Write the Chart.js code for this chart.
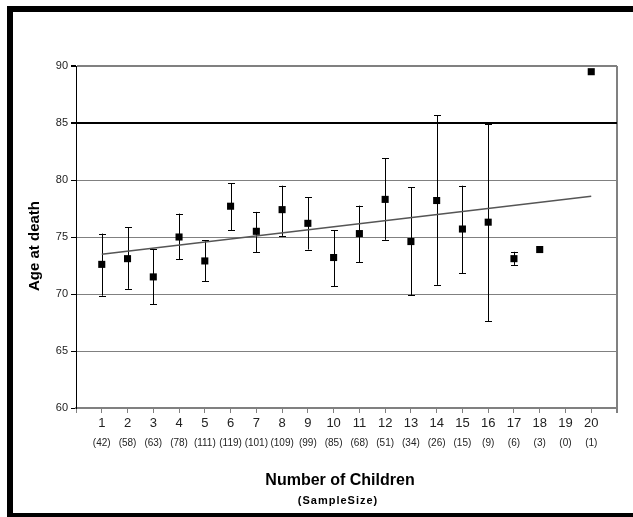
<!DOCTYPE html>
<html>
<head>
<meta charset="utf-8">
<script src="https://cdn.jsdelivr.net/npm/chart.js@4.4.0/dist/chart.umd.min.js"></script>
<style>
    html, body { margin: 0; padding: 0; background: #fff; overflow: hidden; }
    #frame {
        position: absolute; left: 7px; top: 6px; width: 700px; height: 513px;
        box-sizing: border-box; border: 6px solid #000;
    }
    #chart { position: absolute; left: 0; top: 0; }
</style>
</head>
<body>
<div id="frame"></div>
<canvas id="chart" width="633" height="517"></canvas>
<script>
// Data
const children = [1, 2, 3, 4, 5, 6, 7, 8, 9, 10, 11, 12, 13, 14, 15, 16, 17, 18, 19, 20];
const sampleSizes = [42, 58, 63, 78, 111, 119, 101, 109, 99, 85, 68, 51, 34, 26, 15, 9, 6, 3, 0, 1];
const ageAtDeath = [72.6, 73.1, 71.5, 75.0, 72.9, 77.7, 75.5, 77.4, 76.2, 73.2, 75.3, 78.3, 74.6, 78.2, 75.7, 76.3, 73.1, 73.9, null, 89.5];
const errHigh = [75.3, 75.85, 73.95, 77.05, 74.7, 79.7, 77.2, 79.5, 78.5, 75.6, 77.75, 81.9, 79.35, 85.7, 79.5, 84.9, 73.7, null, null, null];
const errLow = [69.85, 70.45, 69.1, 73.05, 71.1, 75.6, 73.65, 75.1, 73.9, 70.7, 72.8, 74.75, 69.9, 70.8, 71.8, 67.6, 72.55, null, null, null];
const trendX = [1, 20];
const trendY = [73.48, 78.57];
const yTicks = [60, 65, 70, 75, 80, 85, 90];

const FONT = "'Liberation Sans', Arial, sans-serif";

const points = [];
children.forEach((c, i) => {
    if (ageAtDeath[i] !== null) points.push({ x: c, y: ageAtDeath[i] });
});

// Error bars with caps, drawn under the markers
const errorBars = {
    id: 'errorBars',
    beforeDatasetsDraw(chart) {
        const ctx = chart.ctx;
        const xs = chart.scales.x;
        const ys = chart.scales.y;
        ctx.save();
        ctx.strokeStyle = '#000';
        ctx.lineWidth = 1;
        children.forEach((c, i) => {
            if (errHigh[i] === null || errLow[i] === null) return;
            const px = Math.round(xs.getPixelForValue(c)) + 0.5;
            const top = ys.getPixelForValue(errHigh[i]);
            const bot = ys.getPixelForValue(errLow[i]);
            ctx.beginPath();
            ctx.moveTo(px, top);
            ctx.lineTo(px, bot);
            ctx.moveTo(px - 3.5, Math.round(top) + 0.5);
            ctx.lineTo(px + 3.5, Math.round(top) + 0.5);
            ctx.moveTo(px - 3.5, Math.round(bot) + 0.5);
            ctx.lineTo(px + 3.5, Math.round(bot) + 0.5);
            ctx.stroke();
        });
        ctx.restore();
    }
};

// Sample sizes under the category numbers, and the axis titles
const extraText = {
    id: 'extraText',
    afterDraw(chart) {
        const ctx = chart.ctx;
        const xs = chart.scales.x;
        ctx.save();
        ctx.fillStyle = '#222';
        ctx.font = '10px ' + FONT;
        ctx.textAlign = 'center';
        ctx.textBaseline = 'middle';
        children.forEach((c, i) => {
            ctx.fillText('(' + sampleSizes[i] + ')', xs.getPixelForValue(c), 443);
        });

        ctx.fillStyle = '#000';
        ctx.font = 'bold 16px ' + FONT;
        ctx.fillText('Number of Children', 340, 481);
        ctx.font = 'bold 11px ' + FONT;
        ctx.letterSpacing = '1px';
        ctx.fillText('(SampleSize)', 338, 501);
        ctx.letterSpacing = '0px';

        ctx.translate(35, 246);
        ctx.rotate(-Math.PI / 2);
        ctx.font = 'bold 15px ' + FONT;
        ctx.fillText('Age at death', 0, 0);
        ctx.restore();
    }
};

const config = {
    type: 'scatter',
    data: {
        datasets: [{
            label: 'Age at death',
            data: points,
            pointStyle: 'rect',
            pointRadius: 5,
            pointHoverRadius: 5,
            backgroundColor: '#000',
            borderWidth: 0,
            order: 1
        }, {
            type: 'line',
            label: 'Trend',
            data: trendX.map((x, i) => ({ x: x, y: trendY[i] })),
            borderColor: '#555',
            borderWidth: 1.5,
            pointRadius: 0,
            fill: false,
            order: 2
        }]
    },
    options: {
        responsive: false,
        animation: false,
        layout: { padding: { top: 66, right: 16, left: 0, bottom: 0 } },
        plugins: {
            legend: { display: false },
            tooltip: { enabled: false }
        },
        scales: {
            x: {
                type: 'linear',
                min: 0,
                max: 21,
                afterBuildTicks(scale) {
                    scale.ticks = [];
                    for (let v = 0; v <= 21; v++) scale.ticks.push({ value: v });
                },
                afterFit(scale) {
                    scale.height = 109;
                    scale.paddingLeft = 0;
                    scale.paddingRight = 0;
                },
                ticks: {
                    autoSkip: false,
                    maxRotation: 0,
                    padding: 3,
                    color: '#222',
                    font: { family: FONT, size: 13 },
                    callback: (v) => (v >= 1 && v <= 20 ? String(v) : '')
                },
                grid: {
                    color: (c) => (c.tick && c.tick.value === 21 ? '#808080' : 'rgba(0,0,0,0)'),
                    lineWidth: (c) => (c.tick && c.tick.value === 21 ? 2 : 1),
                    tickColor: '#808080',
                    tickLength: 5
                },
                border: { color: '#808080', width: 2 }
            },
            y: {
                min: 60,
                max: 90,
                afterBuildTicks(scale) {
                    scale.ticks = yTicks.map(v => ({ value: v }));
                },
                afterFit(scale) {
                    scale.width = 76;
                    scale.paddingTop = 0;
                    scale.paddingBottom = 0;
                },
                ticks: {
                    padding: 3,
                    color: '#222',
                    font: { family: FONT, size: 11 }
                },
                grid: {
                    color: (c) => (c.tick && c.tick.value === 85 ? '#000' : '#808080'),
                    lineWidth: (c) => (c.tick && (c.tick.value === 85 || c.tick.value === 90) ? 2 : 1),
                    tickColor: '#000',
                    tickLength: 5
                },
                border: { color: '#000', width: 1 }
            }
        }
    },
    plugins: [errorBars, extraText]
};

new Chart(document.getElementById('chart').getContext('2d'), config);
</script>
</body>
</html>
